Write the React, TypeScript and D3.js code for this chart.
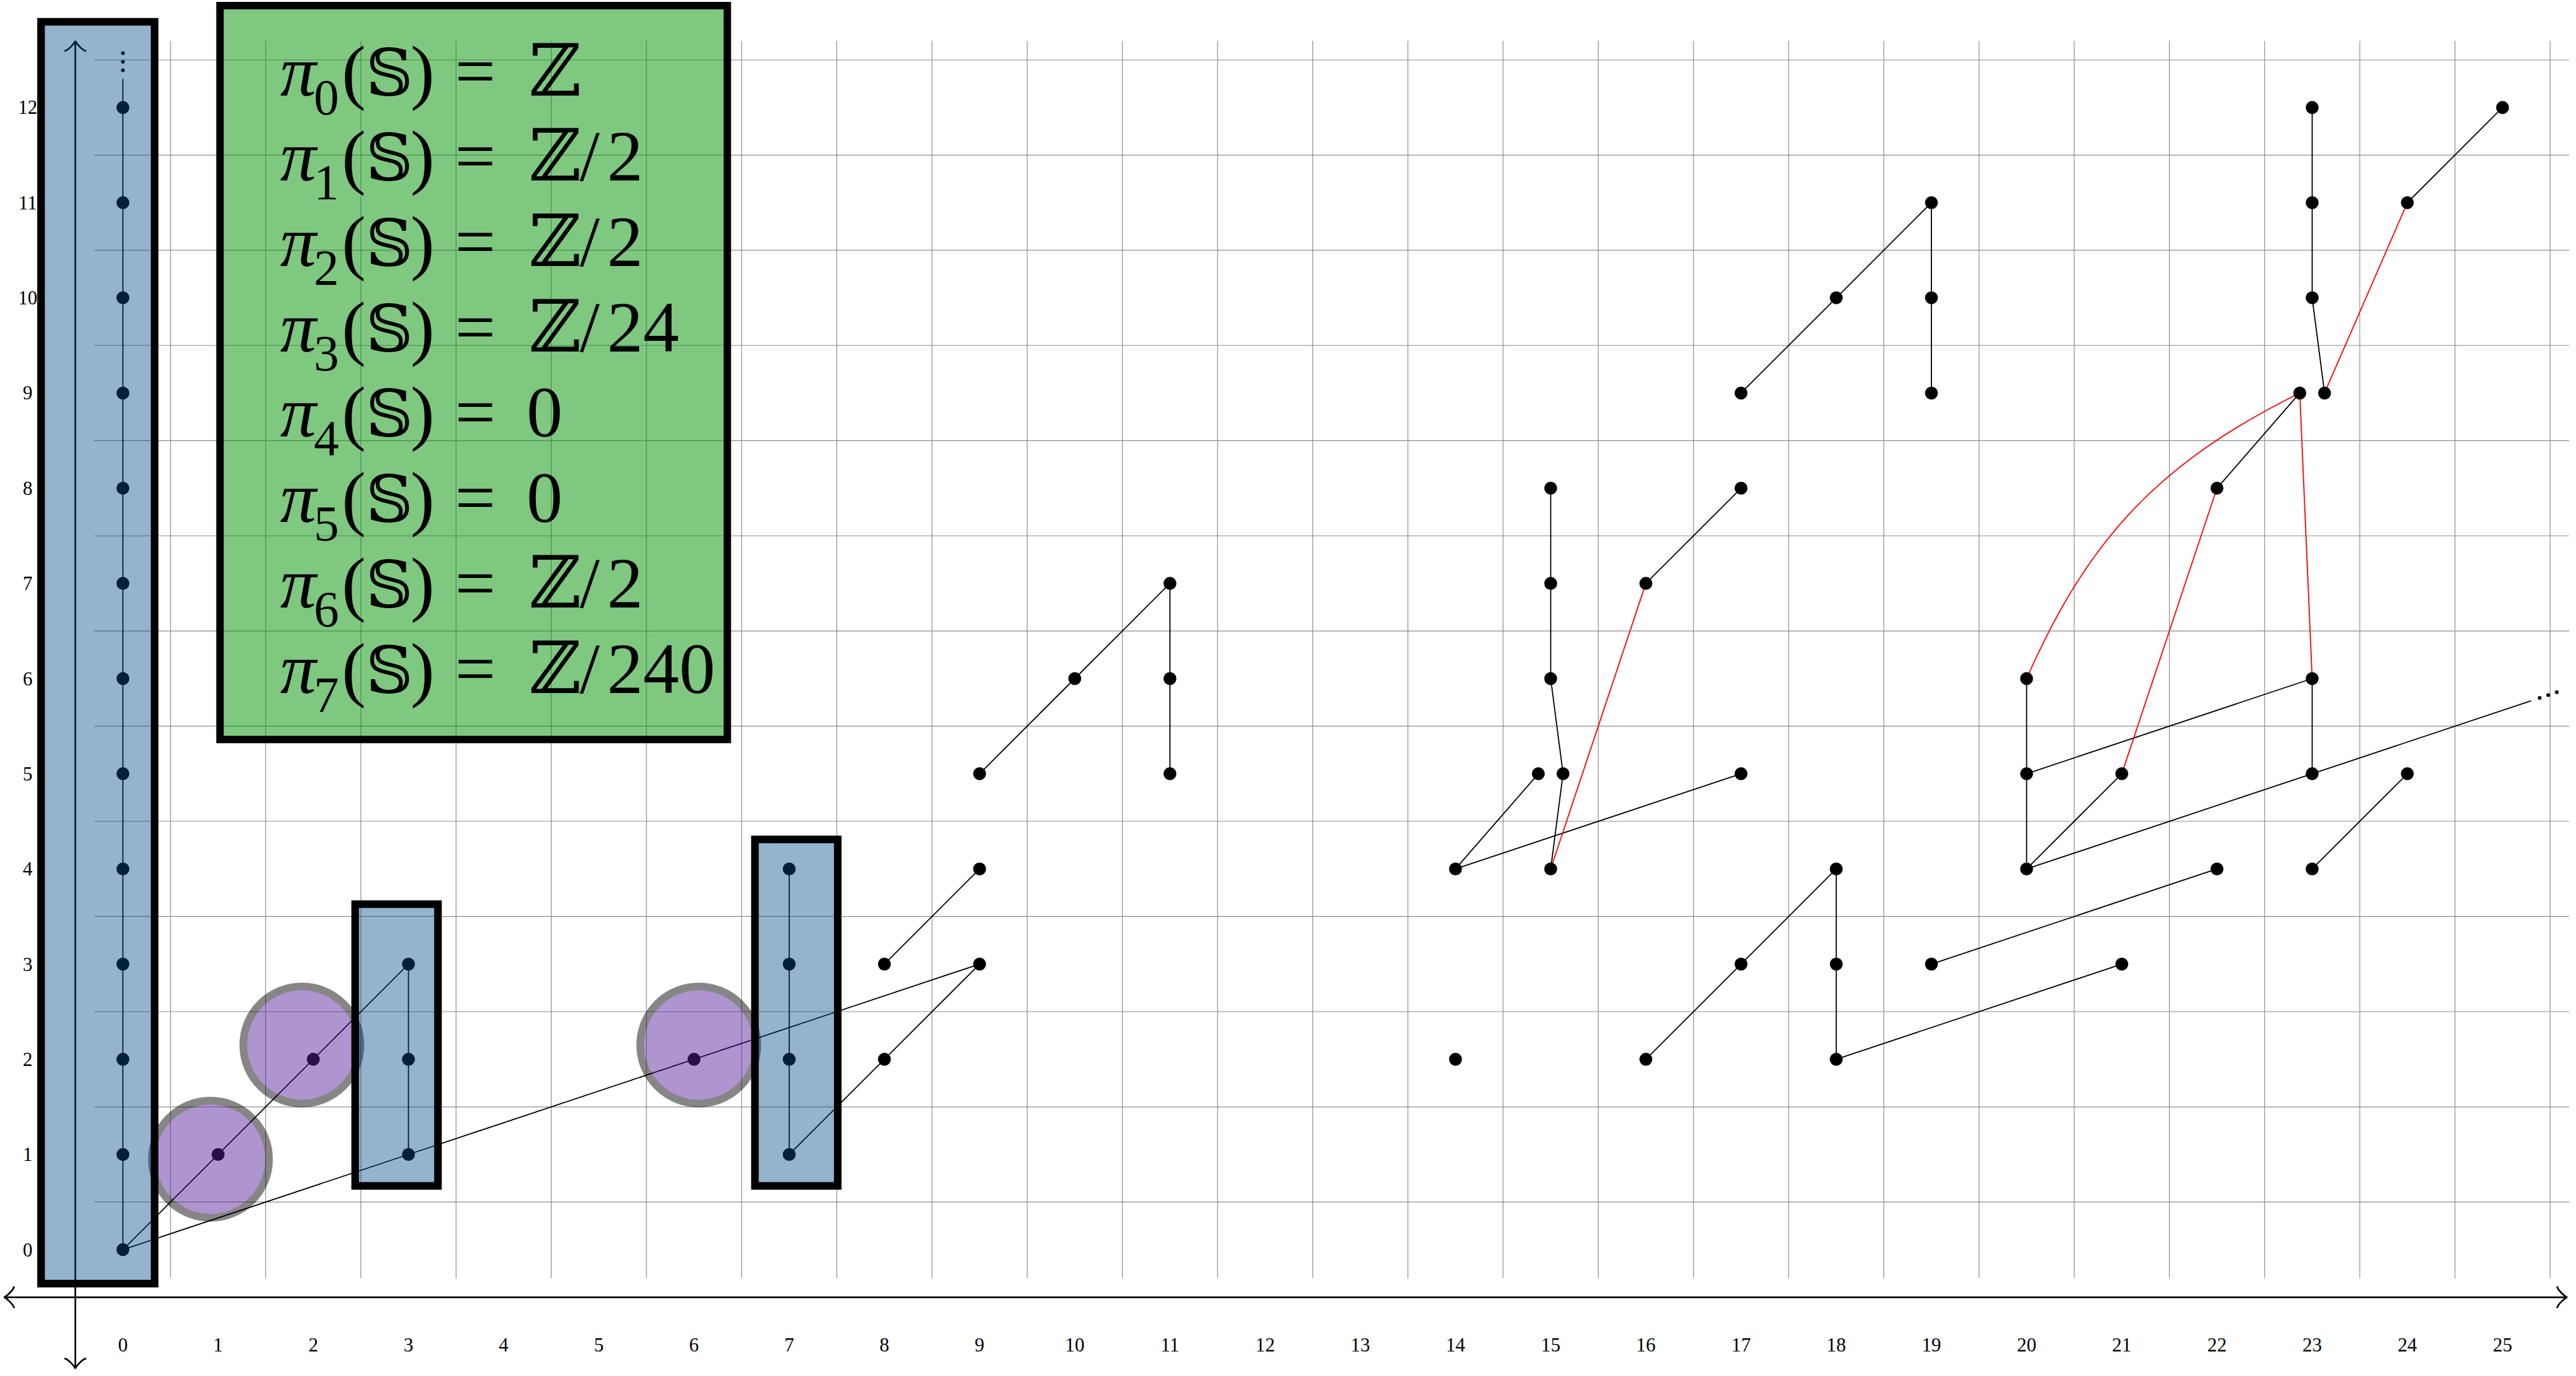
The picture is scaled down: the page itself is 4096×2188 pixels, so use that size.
import React from "react";
import * as d3 from "d3";

// reference is 4506 wide, window 4096
const S = 4096 / 4506;
const W = 4096;
const H = 2188;

const stemTicks = d3.range(0, 26);
const filtrationTicks = d3.range(0, 13);
const towerDots = d3.range(0, 13);

// [stem, filtration, slot]  slot shifts a class sideways when two share a spot
type Pt = [number, number, number?];

const classes: Pt[] = [
  [1, 1], [2, 2], [3, 1], [3, 2], [3, 3], [6, 2],
  [7, 1], [7, 2], [7, 3], [7, 4], [8, 2], [8, 3], [9, 3], [9, 4], [9, 5],
  [10, 6], [11, 5], [11, 6], [11, 7],
  [14, 2], [14, 4], [15, 4], [15, 5, -1], [15, 5, 1], [15, 6], [15, 7], [15, 8],
  [16, 2], [16, 7], [17, 3], [17, 5], [17, 8], [17, 9],
  [18, 2], [18, 3], [18, 4], [18, 10], [19, 3], [19, 9], [19, 10], [19, 11],
  [20, 4], [20, 5], [20, 6], [21, 3], [21, 5], [22, 4], [22, 8],
  [23, 4], [23, 5], [23, 6], [23, 9, -1], [23, 9, 1], [23, 10], [23, 11], [23, 12],
  [24, 5], [24, 11], [25, 12],
];

// h0 (vertical), h1 (diagonal) and h2 (slope 1/3) products
const h0Chains: Pt[][] = [
  [[3, 1], [3, 2], [3, 3]],
  [[7, 1], [7, 2], [7, 3], [7, 4]],
  [[11, 5], [11, 6], [11, 7]],
  [[15, 4], [15, 5, 1], [15, 6], [15, 7], [15, 8]],
  [[18, 2], [18, 3], [18, 4]],
  [[19, 9], [19, 10], [19, 11]],
  [[20, 4], [20, 5], [20, 6]],
  [[23, 5], [23, 6]],
  [[23, 9, 1], [23, 10], [23, 11], [23, 12]],
];
const h1Chains: Pt[][] = [
  [[0, 0], [1, 1], [2, 2], [3, 3]],
  [[7, 1], [8, 2], [9, 3]],
  [[8, 3], [9, 4]],
  [[9, 5], [10, 6], [11, 7]],
  [[14, 4], [15, 5, -1]],
  [[16, 2], [17, 3], [18, 4]],
  [[16, 7], [17, 8]],
  [[17, 9], [18, 10], [19, 11]],
  [[20, 4], [21, 5]],
  [[22, 8], [23, 9, -1]],
  [[23, 4], [24, 5]],
  [[24, 11], [25, 12]],
];
const h2Chains: Pt[][] = [
  [[0, 0], [3, 1], [6, 2], [9, 3]],
  [[14, 4], [17, 5]],
  [[18, 2], [21, 3]],
  [[19, 3], [22, 4]],
  [[20, 4], [23, 5]],
  [[20, 5], [23, 6]],
];
// the h2 line from (23,5) runs off the chart towards (26,6)
const h2Tail: Pt[] = [[23, 5], [26, 6]];

const redEdges: Pt[][] = [
  [[15, 4], [16, 7]],
  [[21, 5], [22, 8]],
  [[23, 9, -1], [23, 6]],
  [[23, 9, 1], [24, 11]],
];
const redCurves: Pt[][] = [[[20, 6], [23, 9, -1]]];

// highlight circles and boxes, in chart units
const circleCenters: [number, number][] = [[0.92, 0.95], [1.88, 2.15], [6.05, 2.15]];
const boxes: [number, number, number, number][] = [
  [-0.86, 0.333, -0.357, 12.9],
  [2.44, 3.31, 0.67, 3.63],
  [6.64, 7.51, 0.67, 4.31],
];
const legendBox: [number, number, number, number] = [1.02, 6.35, 5.36, 13.07];

const piIndex = d3.range(0, 8);
const piGroups = ["ℤ", "ℤ/2", "ℤ/2", "ℤ/24", "0", "0", "ℤ/2", "ℤ/240"];

const x = d3.scaleLinear().domain([0, 25]).range([215, 215 + 25 * 166.5]);
const y = d3.scaleLinear().domain([0, 12]).range([2186, 2186 - 12 * 166.5]);
const SLOT = 0.13;
const px = (p: Pt) => x(p[0] + (p[2] ?? 0) * SLOT);
const py = (p: Pt) => y(p[1]);
const line = d3.line<Pt>().x(px).y(py);

// TikZ "to" arrow tip
function arrowTip(tx: number, ty: number, dx: number, dy: number) {
  const k = 4.75;
  const nx = -dy, ny = dx;
  const ox = tx - 0.75 * k * dx, oy = ty - 0.75 * k * dy;
  const P = (u: number, v: number) => [ox + u * k * dx + v * k * nx, oy + u * k * dy + v * k * ny];
  const p = d3.path();
  for (const s of [1, -1]) {
    const a = P(-3, 4 * s), b = P(-2.75, 2.5 * s), c = P(0, 0.25 * s), d = P(0.75, 0);
    p.moveTo(a[0], a[1]);
    p.bezierCurveTo(b[0], b[1], c[0], c[1], d[0], d[1]);
  }
  return p.toString();
}

function bendLeft(a: Pt, b: Pt, deg: number) {
  const x0 = a[0] + (a[2] ?? 0) * SLOT, y0 = a[1];
  const x3 = b[0] + (b[2] ?? 0) * SLOT, y3 = b[1];
  const phi = Math.atan2(y3 - y0, x3 - x0);
  const th = (deg * Math.PI) / 180;
  const d = 0.3915 * Math.hypot(x3 - x0, y3 - y0);
  const c1 = [x0 + d * Math.cos(phi + th), y0 + d * Math.sin(phi + th)];
  const c2 = [x3 - d * Math.cos(phi - th), y3 - d * Math.sin(phi - th)];
  const p = d3.path();
  p.moveTo(x(x0), y(y0));
  p.bezierCurveTo(x(c1[0]), y(c1[1]), x(c2[0]), y(c2[1]), x(x3), y(y3));
  return p.toString();
}

export default function App() {
  const unit = x(1) - x(0);
  const tailEnd = 25.3;
  const tailY = 5 + (tailEnd - 23) / 3;
  const serif = "'Liberation Serif', 'DejaVu Serif', serif";
  const textFont = "'Liberation Serif', 'DejaVu Serif', 'DejaVu Sans', serif";

  return (
    <svg width={W} height={H} style={{ position: "absolute", left: 0, top: 0, background: "#fff" }}>
      <g transform={`scale(${S})`}>
        {/* grid */}
        <g stroke="#8c8c8c" strokeWidth={1.3}>
          {stemTicks.map((s) => (
            <line key={"v" + s} x1={x(s + 0.5)} x2={x(s + 0.5)} y1={y(-0.3)} y2={y(12.7)} />
          ))}
          {filtrationTicks.map((f) => (
            <line key={"h" + f} x1={x(-0.3)} x2={x(25.7)} y1={y(f + 0.5)} y2={y(f + 0.5)} />
          ))}
        </g>

        {/* axes */}
        <g stroke="#000" strokeWidth={3} fill="none">
          <line x1={x(-1.25)} x2={x(25.68)} y1={y(-0.5)} y2={y(-0.5)} />
          <line x1={x(-0.5)} x2={x(-0.5)} y1={y(-1.25)} y2={y(12.7)} />
          <path d={arrowTip(x(25.68), y(-0.5), 1, 0)} />
          <path d={arrowTip(x(-1.25), y(-0.5), -1, 0)} />
          <path d={arrowTip(x(-0.5), y(12.7), 0, -1)} />
          <path d={arrowTip(x(-0.5), y(-1.25), 0, 1)} />
        </g>

        {/* tick labels */}
        <g fontFamily={serif} fontSize={34} textAnchor="middle" fill="#000">
          {stemTicks.map((s) => (
            <text key={"xl" + s} x={x(s)} y={y(-1)} dy="0.34em">{s}</text>
          ))}
          {filtrationTicks.map((f) => (
            <text key={"yl" + f} x={x(-1)} y={y(f)} dy="0.34em">{f}</text>
          ))}
        </g>

        {/* products */}
        <g stroke="#000" strokeWidth={2} fill="none">
          <line x1={x(0)} x2={x(0)} y1={y(0)} y2={y(12.3)} />
          {[...h0Chains, ...h1Chains, ...h2Chains].map((c, i) => (
            <path key={"c" + i} d={line(c) ?? ""} />
          ))}
          <line x1={px(h2Tail[0])} y1={py(h2Tail[0])} x2={x(tailEnd)} y2={y(tailY)} />
        </g>

        {/* differentials */}
        <g stroke="#f00" strokeWidth={2} fill="none">
          {redEdges.map((c, i) => (
            <path key={"r" + i} d={line(c) ?? ""} />
          ))}
          {redCurves.map((c, i) => (
            <path key={"rc" + i} d={bendLeft(c[0], c[1], 20)} />
          ))}
        </g>

        {/* classes */}
        <g fill="#000">
          {towerDots.map((f) => (
            <circle key={"t" + f} cx={x(0)} cy={y(f)} r={11.3} />
          ))}
          {classes.map((p, i) => (
            <circle key={"d" + i} cx={px(p)} cy={py(p)} r={11.3} />
          ))}
          {[12.39, 12.48, 12.57].map((f) => (
            <circle key={"vd" + f} cx={x(0)} cy={y(f)} r={3.3} />
          ))}
          {[0.09, 0.18, 0.27].map((t) => (
            <circle key={"hd" + t} cx={x(tailEnd + t)} cy={y(tailY + t / 3)} r={3.3} />
          ))}
        </g>

        {/* highlight circles */}
        {circleCenters.map((c, i) => (
          <g key={"hc" + i} opacity={0.47}>
            <circle cx={x(c[0])} cy={y(c[1])} r={0.615 * unit} fill="rgb(87,32,155)" stroke="#000" strokeWidth={13.5} />
          </g>
        ))}

        {/* boxes */}
        {boxes.map((b, i) => (
          <rect
            key={"b" + i}
            x={x(b[0])}
            y={y(b[3])}
            width={x(b[1]) - x(b[0])}
            height={y(b[2]) - y(b[3])}
            fill="rgb(0,75,137)"
            fillOpacity={0.42}
            stroke="#000"
            strokeWidth={13.3}
          />
        ))}

        {/* legend */}
        <rect
          x={x(legendBox[0])}
          y={y(legendBox[3])}
          width={x(legendBox[1]) - x(legendBox[0])}
          height={y(legendBox[2]) - y(legendBox[3])}
          fill="rgb(0,145,0)"
          fillOpacity={0.5}
          stroke="#000"
          strokeWidth={13}
        />
        <g fontFamily={textFont} fontSize={126} fill="#000">
          {piIndex.map((n) => {
            const by = 166.7 + n * 149.3;
            const g = piGroups[n];
            const isZ = g.startsWith("ℤ");
            return (
              <text key={"pi" + n} y={by}>
                <tspan x={490} fontStyle="italic">π</tspan>
                <tspan x={549} dy={33} fontSize={88}>{n}</tspan>
                <tspan x={598} dy={-33}>(</tspan>
                <tspan x={640} fontSize={114}>𝕊</tspan>
                <tspan x={718}>)</tspan>
                <tspan x={796}>=</tspan>
                {isZ ? (
                  <>
                    <tspan x={925}>ℤ</tspan>
                    {g.length > 1 && <tspan x={1014}>/</tspan>}
                    {g.length > 1 && <tspan x={1062}>{g.slice(2)}</tspan>}
                  </>
                ) : (
                  <tspan x={921}>{g}</tspan>
                )}
              </text>
            );
          })}
        </g>
      </g>
    </svg>
  );
}
